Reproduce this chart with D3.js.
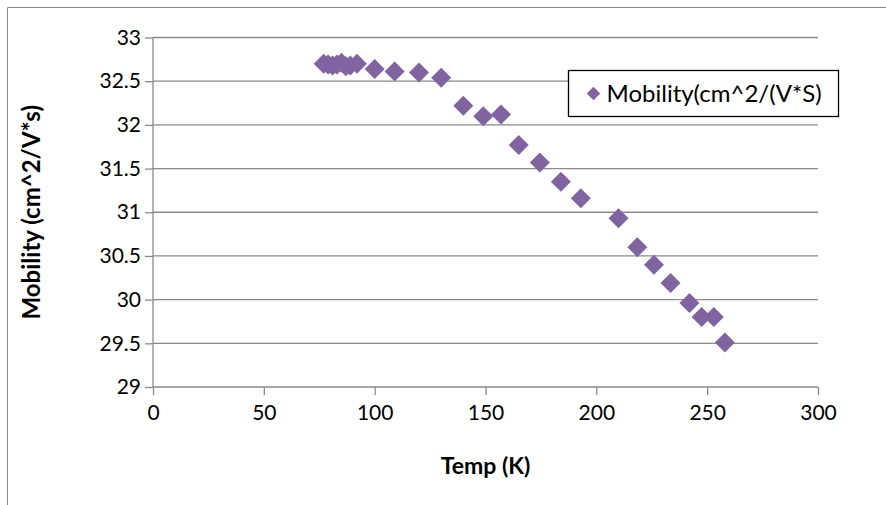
<!DOCTYPE html>
<html lang="en">
<head>
    <meta charset="UTF-8">
    <title>Mobility vs Temp</title>
    <style>
        body {
            margin: 0;
            padding: 0;
            background: #fff;
        }
        #chart {
            width: 886px;
            height: 505px;
        }
        text {
            font-family: Lato, 'Open Sans', sans-serif;
            fill: #000;
        }
    </style>
</head>
<body>
    <div id="chart"></div>
    <script src="https://d3js.org/d3.v7.min.js"></script>
    <script>
        // data
        var temps = [77, 79, 81, 83, 85, 87, 89, 92, 100, 109, 120, 130, 140, 149, 157, 165, 174.5, 184, 193, 210, 218.5, 226, 233.5, 242, 247.5, 253, 258];
        var mobility = [32.70, 32.69, 32.68, 32.69, 32.71, 32.67, 32.68, 32.70, 32.64, 32.61, 32.60, 32.54, 32.22, 32.10, 32.12, 31.77, 31.57, 31.35, 31.16, 30.93, 30.60, 30.40, 30.19, 29.96, 29.80, 29.80, 29.51];
        var xTicks = [0, 50, 100, 150, 200, 250, 300];
        var yTicks = [29, 29.5, 30, 30.5, 31, 31.5, 32, 32.5, 33];
        var seriesName = "Mobility(cm^2/(V*S)";

        var points = temps.map((t, i) => ({temp: t, mob: mobility[i]}));

        var margin = {top: 37.5, left: 153, right: 68, bottom: 118};
        var W = 886, H = 505;

        var svg = d3.select("#chart")
            .append("svg")
            .attr("width", W)
            .attr("height", H);

        // outer chart frame (only top and left edges show)
        svg.append("path")
            .attr("d", "M7.5,505 V7.5 H886")
            .attr("fill", "none")
            .attr("stroke", "#888")
            .attr("stroke-width", 1);

        var x = d3.scaleLinear().domain([0, 300]).range([margin.left, W - margin.right]);
        var y = d3.scaleLinear().domain([29, 33]).range([H - margin.bottom, margin.top]);

        // gridlines
        svg.append("g")
            .selectAll("line")
            .data(yTicks.slice(1))
            .enter()
            .append("line")
            .attr("x1", x(0))
            .attr("x2", x(300))
            .attr("y1", d => y(d))
            .attr("y2", d => y(d))
            .attr("stroke", "#8a8a8a")
            .attr("stroke-width", 1.3);

        // y axis
        var yAxis = d3.axisLeft(y).tickValues(yTicks).tickSize(8).tickPadding(4).tickFormat(d3.format("~g"));
        var gy = svg.append("g")
            .attr("transform", `translate(${x(0)},0)`)
            .call(yAxis);

        // x axis
        var xAxis = d3.axisBottom(x).tickValues(xTicks).tickSize(8).tickPadding(10);
        var gx = svg.append("g")
            .attr("transform", `translate(0,${y(29)})`)
            .call(xAxis);

        [gx, gy].forEach(g => {
            g.selectAll("path, line").attr("stroke", "#8a8a8a").attr("stroke-width", 1.3);
            g.select(".domain").attr("d", g === gx ? `M${x(0)},0H${x(300)}` : `M0,${y(29)}V${y(33)}`);
            g.selectAll("text")
                .style("font-family", "Lato, sans-serif")
                .style("font-size", "21px")
                .attr("fill", "#000");
        });
        gx.selectAll(".tick line").attr("y1", 0);

        // diamonds
        var diamond = d3.symbol().type(d3.symbolSquare).size(200);
        svg.append("g")
            .selectAll("path")
            .data(points)
            .enter()
            .append("path")
            .attr("d", diamond)
            .attr("transform", d => `translate(${x(d.temp)},${y(d.mob)}) rotate(45)`)
            .attr("fill", "#8064a2");

        // axis titles
        svg.append("text")
            .attr("x", (x(0) + x(300)) / 2)
            .attr("y", 474)
            .style("text-anchor", "middle")
            .style("font-size", "23px")
            .style("font-weight", "bold")
            .text("Temp (K)");

        svg.append("text")
            .attr("transform", `translate(40,${(y(29) + y(33)) / 2}) rotate(-90)`)
            .style("text-anchor", "middle")
            .style("font-size", "24px")
            .style("font-weight", "bold")
            .text("Mobility (cm^2/V*s)");

        // legend
        var legend = svg.append("g").attr("transform", "translate(568.5,70.5)");
        legend.append("rect")
            .attr("width", 270)
            .attr("height", 46)
            .attr("fill", "#fff")
            .attr("stroke", "#000")
            .attr("stroke-width", 1.3);
        legend.append("path")
            .attr("d", d3.symbol().type(d3.symbolSquare).size(90))
            .attr("transform", "translate(25,23) rotate(45)")
            .attr("fill", "#8064a2");
        legend.append("text")
            .attr("x", 38)
            .attr("y", 31)
            .style("font-size", "24px")
            .text(seriesName);
    </script>
</body>
</html>
